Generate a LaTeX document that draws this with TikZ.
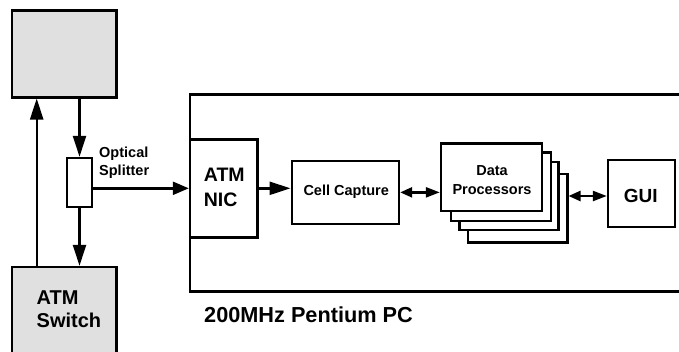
\documentclass[tikz,border=0pt]{standalone}
\usepackage{fontspec}
\setmainfont{Liberation Sans}
\usetikzlibrary{arrows.meta}
\begin{document}
\begin{tikzpicture}[x=1pt,y=-1pt,line width=2.4pt,
  box/.style={draw,fill=white,inner sep=0pt},
  graybox/.style={draw,fill=black!12,inner sep=0pt},
  txt/.style={inner sep=0pt,font=\fontsize{#1}{#1}\selectfont\bfseries},
  bigtip/.style={-{Triangle[length=21pt,width=13pt]}},
  medtip/.style={-{Triangle[length=16pt,width=13pt]}},
  duo/.style={{Triangle[length=12pt,width=10pt]}-{Triangle[length=14pt,width=10pt]}}]
\useasboundingbox (0,0) rectangle (679,351);
\clip (0,0) rectangle (679,351);
% boxes
\node[graybox,minimum width=104.5pt,minimum height=87pt] (top) at (64.25,53.8) {};
\node[graybox,minimum width=104.5pt,minimum height=113pt] (sw) at (64.25,323.5) {};
\node[box,minimum width=25pt,minimum height=49pt] (spl) at (79.5,182.5) {};
\node[draw,inner sep=0pt,minimum width=530pt,minimum height=197.2pt] (pc) at (455,192.9) {};
\node[box,minimum width=67.3pt,minimum height=98pt] (nic) at (223.65,188.3) {};
\node[box,minimum width=107.3pt,minimum height=63.3pt] (cc) at (345.35,192.35) {};
\node[box,minimum width=99.6pt,minimum height=68.3pt] (dp4) at (517.5,208.15) {};
\node[box,minimum width=99pt,minimum height=68.3pt] (dp3) at (508.8,195.85) {};
\node[box,minimum width=100pt,minimum height=68.7pt] (dp2) at (500.7,186.65) {};
\node[box,minimum width=100.7pt,minimum height=67.7pt] (dp1) at (491.35,177.15) {};
\node[box,minimum width=67pt,minimum height=67pt] (gui) at (641.5,193.5) {};
% texts
\node[txt=20,align=left,anchor=west,font=\fontsize{20}{23}\selectfont\bfseries] (swl) at (35.5,309.4) {ATM\\Switch};
\node[txt=14.5,align=left,anchor=west,font=\fontsize{14.5}{18}\selectfont\bfseries] (spll) at (98,163.2) {Optical\\Splitter};
\node[txt=19.5,align=left,anchor=west,font=\fontsize{19.5}{24.7}\selectfont\bfseries] (nicl) at (202.7,187.4) {ATM\\NIC};
\node[txt=14.5,anchor=base] (ccl) at (346.2,195) {Cell Capture};
\node[txt=14.5,align=center,font=\fontsize{14.5}{19.3}\selectfont\bfseries] (dpl) at (492,180.2) {Data\\Processors};
\node[txt=19,anchor=base] (guil) at (640.8,202.5) {GUI};
\node[txt=21.7,anchor=base west] (pcl) at (203,322.3) {200MHz Pentium PC};
% connectors
\draw[bigtip] ([xshift=-27.55pt]sw.north) -- ([xshift=-27.55pt]top.south);
\draw[bigtip] (top.south -| spl.north) -- (spl.north);
\draw[bigtip] (spl.south) -- (spl.south |- sw.north);
\draw[medtip] (spl.east |- nic.west) -- (nic.west);
\draw[bigtip] (nic.east) -- (nic.east -| cc.west);
\draw[duo] (cc.east) -- (cc.east -| dp1.west);
\draw[duo] ([yshift=-2.5pt]gui.west -| dp4.east) -- ([yshift=-2.5pt]gui.west);
\end{tikzpicture}
\end{document}
